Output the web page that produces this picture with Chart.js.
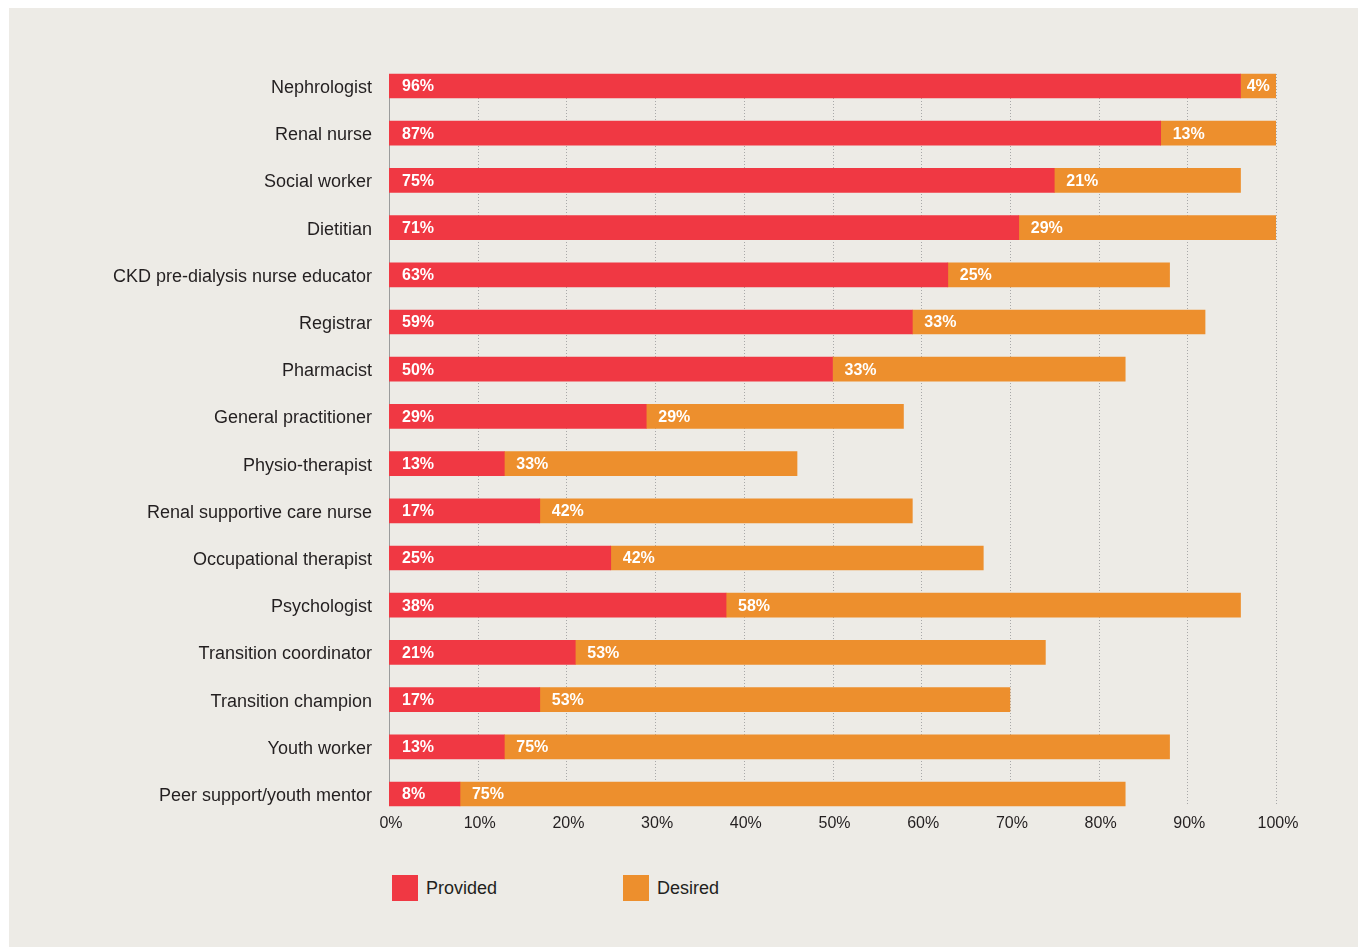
<!DOCTYPE html>
<html>
<head>
<meta charset="utf-8">
<script src="https://cdn.jsdelivr.net/npm/chart.js@4.4.1/dist/chart.umd.min.js"></script>
<style>
  html, body { margin: 0; padding: 0; background: #ffffff; }
  #panel { position: absolute; left: 9px; top: 8px; width: 1349px; height: 939px; background: #EDEBE6; }
  #chart { position: absolute; left: 0; top: 0; }
  .legend-item { position: absolute; top: 875px; height: 26px; display: flex; align-items: center;
    font: 18px "Liberation Sans", Arial, sans-serif; color: #231f20; }
  .legend-item .swatch { width: 26px; height: 26px; margin-right: 8px; }
</style>
</head>
<body>
<div id="panel"></div>
<canvas id="chart" width="1358" height="850"></canvas>
<div class="legend-item" style="left:392px"><div class="swatch" style="background:#F03843"></div><span>Provided</span></div>
<div class="legend-item" style="left:623px"><div class="swatch" style="background:#ED8F2D"></div><span>Desired</span></div>
<script>
// Staff roles in the kidney care team
const roles = [
  'Nephrologist', 'Renal nurse', 'Social worker', 'Dietitian',
  'CKD pre-dialysis nurse educator', 'Registrar', 'Pharmacist',
  'General practitioner', 'Physio-therapist', 'Renal supportive care nurse',
  'Occupational therapist', 'Psychologist', 'Transition coordinator',
  'Transition champion', 'Youth worker', 'Peer support/youth mentor'
];
// Share of services where the role is provided (%)
const provided = [96, 87, 75, 71, 63, 59, 50, 29, 13, 17, 25, 38, 21, 17, 13, 8];
// Share where the role is not provided but desired (%)
const desired = [4, 13, 21, 29, 25, 33, 33, 29, 33, 42, 42, 58, 53, 53, 75, 75];
// Axis ticks (%)
const xTicks = [0, 10, 20, 30, 40, 50, 60, 70, 80, 90, 100];

const RED = '#F03843';
const ORANGE = '#ED8F2D';
const FONT = '"Liberation Sans", Arial, sans-serif';
const TEXT = '#231f20';

// Dotted vertical guides spanning from the first bar to the last bar
const guides = {
  id: 'guides',
  beforeDatasetsDraw(chart) {
    const ctx = chart.ctx;
    const xs = chart.scales.x;
    const bars = chart.getDatasetMeta(0).data;
    const first = bars[0], last = bars[bars.length - 1];
    const top = first.y - first.height / 2;
    const bottom = last.y + last.height / 2;
    ctx.save();
    ctx.lineWidth = 1;
    xTicks.forEach(v => {
      const px = Math.round(xs.getPixelForValue(v)) + 0.5;
      ctx.beginPath();
      if (v === 0) {
        ctx.setLineDash([]);
        ctx.strokeStyle = '#9b9b9b';
      } else {
        ctx.setLineDash([1, 2]);
        ctx.strokeStyle = '#a8a8a8';
      }
      ctx.moveTo(px, top);
      ctx.lineTo(px, bottom);
      ctx.stroke();
    });
    ctx.restore();
  }
};

// Percent labels under the plot, tucked close to the last bar
const xAxisLabels = {
  id: 'xAxisLabels',
  afterDraw(chart) {
    const ctx = chart.ctx;
    const xs = chart.scales.x;
    ctx.save();
    ctx.font = '16px ' + FONT;
    ctx.fillStyle = TEXT;
    ctx.textAlign = 'center';
    ctx.textBaseline = 'middle';
    xTicks.forEach(v => {
      ctx.fillText(v + '%', xs.getPixelForValue(v) + 2, chart.chartArea.bottom + 5.5);
    });
    ctx.restore();
  }
};

// Percentage labels printed inside each segment
const segmentLabels = {
  id: 'segmentLabels',
  afterDatasetsDraw(chart) {
    const ctx = chart.ctx;
    ctx.save();
    ctx.font = 'bold 16px ' + FONT;
    ctx.fillStyle = '#ffffff';
    ctx.textBaseline = 'middle';
    chart.data.datasets.forEach((ds, di) => {
      chart.getDatasetMeta(di).data.forEach((bar, i) => {
        const text = ds.data[i] + '%';
        const left = Math.min(bar.base, bar.x);
        const width = Math.abs(bar.x - bar.base);
        const tw = ctx.measureText(text).width;
        let x;
        if (di === 0) {
          x = left + 13;
        } else if (width < tw + 24) {
          x = left + (width - tw) / 2;
        } else {
          x = left + 12;
        }
        ctx.textAlign = 'left';
        ctx.fillText(text, x, bar.y + 1);
      });
    });
    ctx.restore();
  }
};

new Chart(document.getElementById('chart'), {
  type: 'bar',
  data: {
    labels: roles,
    datasets: [
      { label: 'Provided', data: provided, backgroundColor: RED, borderWidth: 0, barThickness: 24 },
      { label: 'Desired', data: desired, backgroundColor: ORANGE, borderWidth: 0, barThickness: 24 }
    ]
  },
  options: {
    indexAxis: 'y',
    responsive: false,
    animation: false,
    layout: { padding: { top: 62.4, right: 82, left: 0, bottom: 0 } },
    plugins: { legend: { display: false }, tooltip: { enabled: false } },
    scales: {
      x: {
        stacked: true,
        min: 0,
        max: 100,
        afterFit(s) { s.height = 850 - 817.6; },
        afterBuildTicks(s) { s.ticks = xTicks.map(v => ({ value: v })); },
        grid: { display: false, drawTicks: false },
        border: { display: false },
        ticks: { display: false }
      },
      y: {
        stacked: true,
        afterFit(s) { s.width = 389; },
        grid: { display: false, drawTicks: false },
        border: { display: false },
        ticks: {
          color: TEXT,
          padding: 17,
          labelOffset: 2,
          font: { family: FONT, size: 18 }
        }
      }
    }
  },
  plugins: [guides, segmentLabels, xAxisLabels]
});
</script>
</body>
</html>
